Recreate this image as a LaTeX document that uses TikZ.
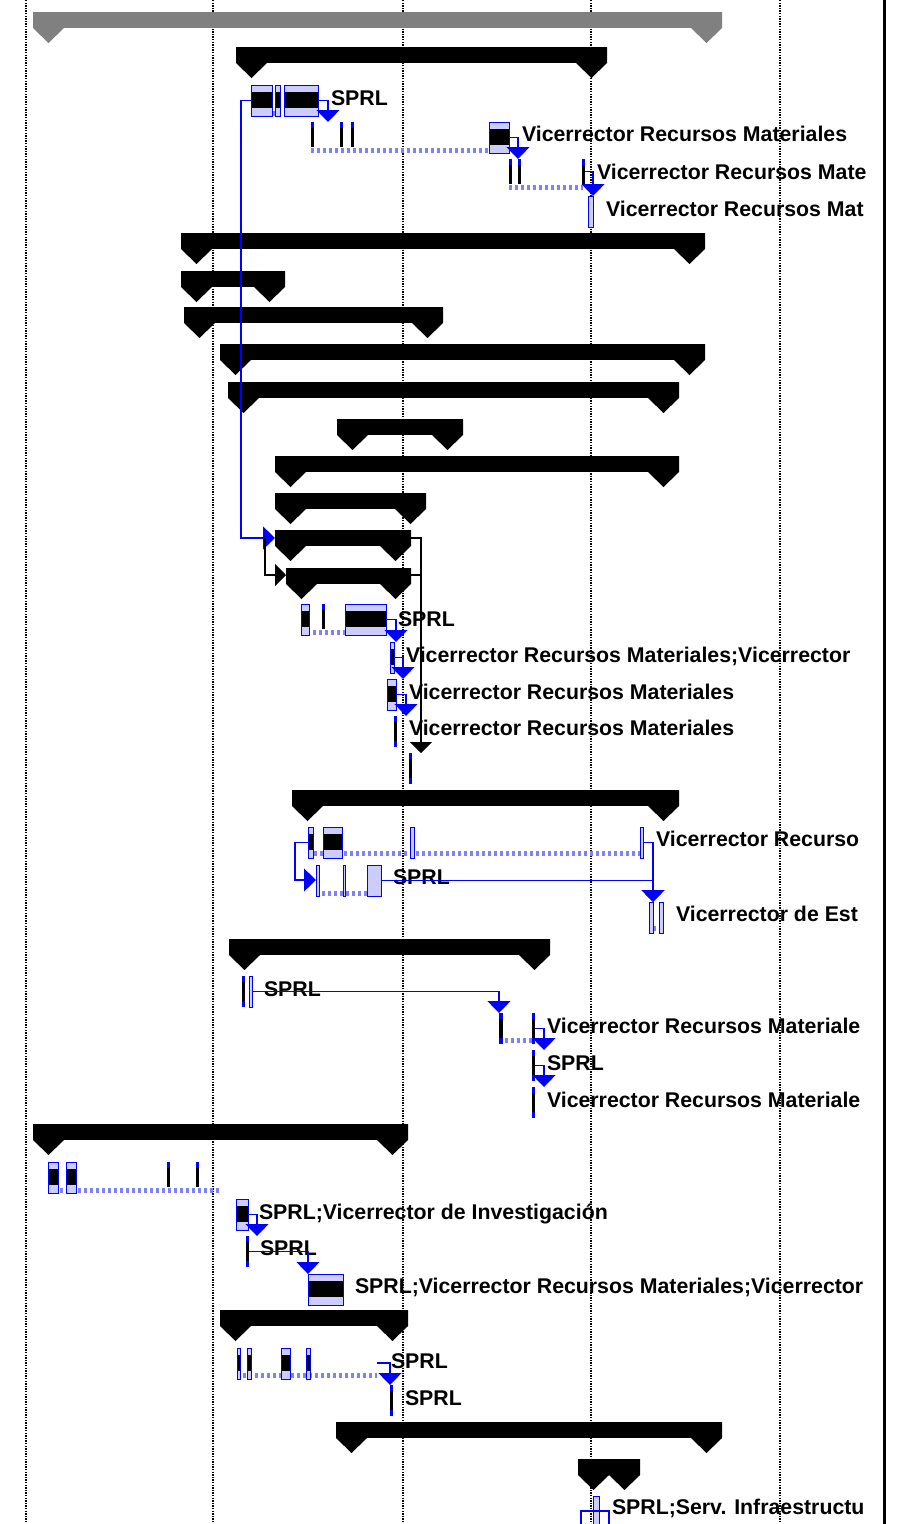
\documentclass[tikz,border=0pt]{standalone}
\usepackage{fontspec}
\setmainfont{Liberation Sans}
\usetikzlibrary{arrows.meta}

\tikzset{
  every node/.style={inner sep=0pt, outer sep=0pt},
  task/.style={draw=blue, line width=1pt, fill=blue!20, anchor=north west, minimum height=31pt,
    path picture={\fill[black] ([yshift=-7pt]path picture bounding box.north west) rectangle ([yshift=8pt]path picture bounding box.south east);}},
  taskopen/.style={draw=blue, line width=1pt, fill=blue!20, anchor=north west, minimum height=31pt},
  slim/.style={fill=blue, anchor=north west, minimum width=3pt, minimum height=31pt,
    path picture={\fill[black] ([yshift=-6pt]path picture bounding box.north west) rectangle ([yshift=6pt]path picture bounding box.south east);}},
  tick/.style={fill=black, anchor=north west, minimum width=3pt, minimum height=25pt,
    path picture={\fill[blue] (path picture bounding box.north west) rectangle ([yshift=-6pt]path picture bounding box.north east);}},
  splitline/.style={blue!50, line width=5pt, dash pattern=on 2.5pt off 3.5pt},
  link/.style={blue, line width=1.2pt, -{Triangle[width=23pt,length=12pt]}},
  blklink/.style={black, line width=1.2pt, -{Triangle[width=22pt,length=11pt]}},
  lbl/.style={anchor=base west, font=\bfseries\fontsize{21.3}{24}\selectfont},
  gridline/.style={black, line width=1.3pt, dash pattern=on 1.3pt off 1.3pt}
}

\newcommand{\sumbar}[4][black]{%
  \fill[#1] (#2,#4) rectangle (#3,#4+16);
  \fill[#1] (#2,#4) -- ++(31,0) -- ++(0,16) -- ++(-15.5,15) -- ++(-15.5,-15) -- cycle;
  \fill[#1] (#3,#4) -- ++(-31,0) -- ++(0,16) -- ++(15.5,15) -- ++(15.5,-15) -- cycle;
}

\begin{document}
\begin{tikzpicture}[x=1pt, y=-1pt]
    \useasboundingbox (0,0) rectangle (900,1524);
    \foreach \gx in {26,213,403,591,780}
        \draw[gridline] (\gx,0) -- (\gx,1524);
    \draw[line width=3pt] (884,0) -- (884,1524);

    \sumbar[gray]{33}{722}{12}
    \sumbar{236}{607}{47}
    \sumbar{181}{705}{233}
    \sumbar{181}{285}{271}
    \sumbar{184}{443}{307}
    \sumbar{220}{705}{344}
    \sumbar{228}{679}{382}
    \sumbar{337}{463}{419}
    \sumbar{275}{679}{456}
    \sumbar{275}{426}{493}
    \sumbar{275}{411}{530}
    \sumbar{286}{411}{568}
    \sumbar{292}{679}{790}
    \sumbar{229}{550}{939}
    \sumbar{33}{408}{1124}
    \sumbar{220}{408}{1310}
    \sumbar{336}{722}{1422}
    \sumbar{578}{640}{1459}

    \draw[splitline] (272,113) -- (284,113);
    \draw[splitline] (311,150) -- (489,150);
    \draw[splitline] (509,187) -- (583,187);
    \draw[splitline] (301,632) -- (345,632);
    \draw[splitline] (308,853) -- (642,853);
    \draw[splitline] (316,893) -- (367,893);
    \draw[splitline] (653,928) -- (659,928);
    \draw[splitline] (499,1040) -- (533,1040);
    \draw[splitline] (48,1190) -- (220,1190);
    \draw[splitline] (237,1375) -- (377,1375);

    \node[task, minimum width=21pt] (t2a) at (251,85) {};
    \node[task, minimum width=5pt] (t2b) at (275,85) {};
    \node[task, minimum width=34pt] (t2c) at (284,85) {};
    \node[lbl] (l2) at (331,105.5) {SPRL};

    \node[tick] (t3a) at (311,122) {};
    \node[tick] (t3b) at (340,122) {};
    \node[tick] (t3c) at (351,122) {};
    \node[task, minimum width=20pt] (t3d) at (489,122) {};
    \node[lbl] (l3) at (522,141.5) {Vicerrector Recursos Materiales};

    \node[tick] (t4a) at (509,159) {};
    \node[tick] (t4b) at (518,159) {};
    \node[tick] (t4c) at (582,159) {};
    \node[lbl] (l4) at (597,179.5) {Vicerrector Recursos Mate};

    \node[taskopen, minimum width=5pt] (t5) at (588,196) {};
    \node[lbl] (l5) at (606,216.5) {Vicerrector Recursos Mat};

    \node[task, minimum width=8pt] (t16a) at (301,604) {};
    \node[tick] (t16b) at (322,604) {};
    \node[task, minimum width=41pt] (t16c) at (345,604) {};
    \node[lbl] (l16) at (398,626.5) {SPRL};

    \node[task, minimum width=4pt] (t17) at (390,642) {};
    \node[lbl] (l17) at (406,662.5) {Vicerrector Recursos Materiales;Vicerrector};

    \node[task, minimum width=9pt] (t18) at (387,679) {};
    \node[lbl] (l18) at (409,699.5) {Vicerrector Recursos Materiales};

    \node[slim] (t19) at (394,716) {};
    \node[lbl] (l19) at (409,735.5) {Vicerrector Recursos Materiales};

    \node[slim] (t20) at (409,753) {};

    \node[task, minimum width=5pt] (t22a) at (308,827) {};
    \node[task, minimum width=19pt] (t22b) at (323,827) {};
    \node[taskopen, minimum width=4pt] (t22c) at (410,827) {};
    \node[taskopen, minimum width=3pt] (t22d) at (640,827) {};
    \node[lbl] (l22) at (656,846.5) {Vicerrector Recurso};

    \node[taskopen, minimum width=3pt] (t23a) at (316,865) {};
    \node[taskopen, minimum width=2pt] (t23b) at (343,865) {};
    \node[taskopen, minimum width=14pt] (t23c) at (367,865) {};
    \node[lbl] (l23) at (393,884.5) {SPRL};

    \node[taskopen, minimum width=4pt] (t24a) at (649,902) {};
    \node[taskopen, minimum width=4pt] (t24b) at (659,902) {};
    \node[lbl] (l24) at (676,921.5) {Vicerrector de Est};

    \node[slim] (t26a) at (242,976) {};
    \node[taskopen, minimum width=3pt] (t26b) at (249,976) {};
    \node[lbl] (l26) at (264,996.5) {SPRL};

    \node[slim, minimum width=4pt] (t27a) at (499,1013) {};
    \node[slim] (t27b) at (532,1013) {};
    \node[lbl] (l27) at (547,1033.5) {Vicerrector Recursos Materiale};

    \node[slim] (t28) at (532,1050) {};
    \node[lbl] (l28) at (547,1070.5) {SPRL};

    \node[slim] (t29) at (532,1087) {};
    \node[lbl] (l29) at (547,1107.5) {Vicerrector Recursos Materiale};

    \node[task, minimum width=10pt] (t31a) at (48,1162) {};
    \node[task, minimum width=10pt] (t31b) at (66,1162) {};
    \node[tick] (t31c) at (167,1162) {};
    \node[tick] (t31d) at (196,1162) {};

    \node[task, minimum width=12pt] (t32) at (236,1199) {};
    \node[lbl] (l32) at (259,1219.5) {SPRL;Vicerrector de Investigación};

    \node[slim] (t33) at (246,1236) {};
    \node[lbl] (l33) at (260,1255.5) {SPRL};

    \node[task, minimum width=35pt] (t34) at (308,1274) {};
    \node[lbl] (l34) at (355,1293.5) {SPRL;Vicerrector Recursos Materiales;Vicerrector};

    \node[task, minimum width=3pt] (t36a) at (237,1348) {};
    \node[task, minimum width=4pt] (t36b) at (247,1348) {};
    \node[task, minimum width=9pt] (t36c) at (281,1348) {};
    \node[task, minimum width=4pt] (t36d) at (306,1348) {};
    \node[lbl] (l36) at (391,1368.5) {SPRL};

    \node[slim] (t37) at (390,1385) {};
    \node[lbl] (l37) at (405,1405.5) {SPRL};

    \node[taskopen, minimum width=6pt] (t40) at (593,1496) {};
    \node[lbl] (l40) at (612,1514.5) {SPRL;Serv. Infraestructu};

    \coordinate (a2) at (328,122);
    \coordinate (a3) at (518,159);
    \coordinate (a4) at (593,196);
    \coordinate (s14l) at (275,538);
    \coordinate (s14in) at (265,538);
    \coordinate (s14r) at (411,538);
    \coordinate (s15l) at (286,575);
    \coordinate (s15r) at (411,575);
    \coordinate (s15j) at (421,575);
    \coordinate (b20) at (421,753);
    \coordinate (a16) at (396,642);
    \coordinate (a17) at (403,679);
    \coordinate (a18) at (406,716);
    \coordinate (a22) at (653,902);
    \coordinate (a23) at (316,880);
    \coordinate (a26) at (499,1013);
    \coordinate (a27) at (544,1050);
    \coordinate (a28) at (544,1087);
    \coordinate (a32) at (257,1236);
    \coordinate (a33) at (308,1274);
    \coordinate (r36e) at (377,1363);
    \coordinate (a36) at (390,1385);
    \coordinate (c40a) at (581,1524);
    \coordinate (c40b) at (609,1511);
    \coordinate (c40c) at (609,1524);

    \draw[link] (t2c.east) -| (a2);
    \draw[link] (t3d.east) -| (a3);
    \draw[link] (t4c.east) -| (a4);
    \draw[link] (t2a.west) -- ++(-10,0) |- (s14l);
    \draw[blklink] (s14in) |- (s15l);
    \draw[blklink] (s14r) -| (b20);
    \draw[black, line width=1.2pt] (s15r) -- (s15j);
    \draw[link] (t16c.east) -| (a16);
    \draw[link] (t17.east) -| (a17);
    \draw[link] (t18.east) -| (a18);
    \draw[link] (t22d.east) -| (a22);
    \draw[link] (t23c.east) -| (a22);
    \draw[link] (t22a.west) -- ++(-13,0) |- (a23);
    \draw[link] (t26b.east) -| (a26);
    \draw[link] (t27b.east) -| (a27);
    \draw[link] (t28.east) -| (a28);
    \draw[link] (t32.east) -| (a32);
    \draw[link] (t33.east) -| (a33);
    \draw[link] (r36e) -| (a36);
    \draw[blue, line width=1.2pt] (c40a) |- (c40b) -- (c40c);
\end{tikzpicture}
\end{document}
